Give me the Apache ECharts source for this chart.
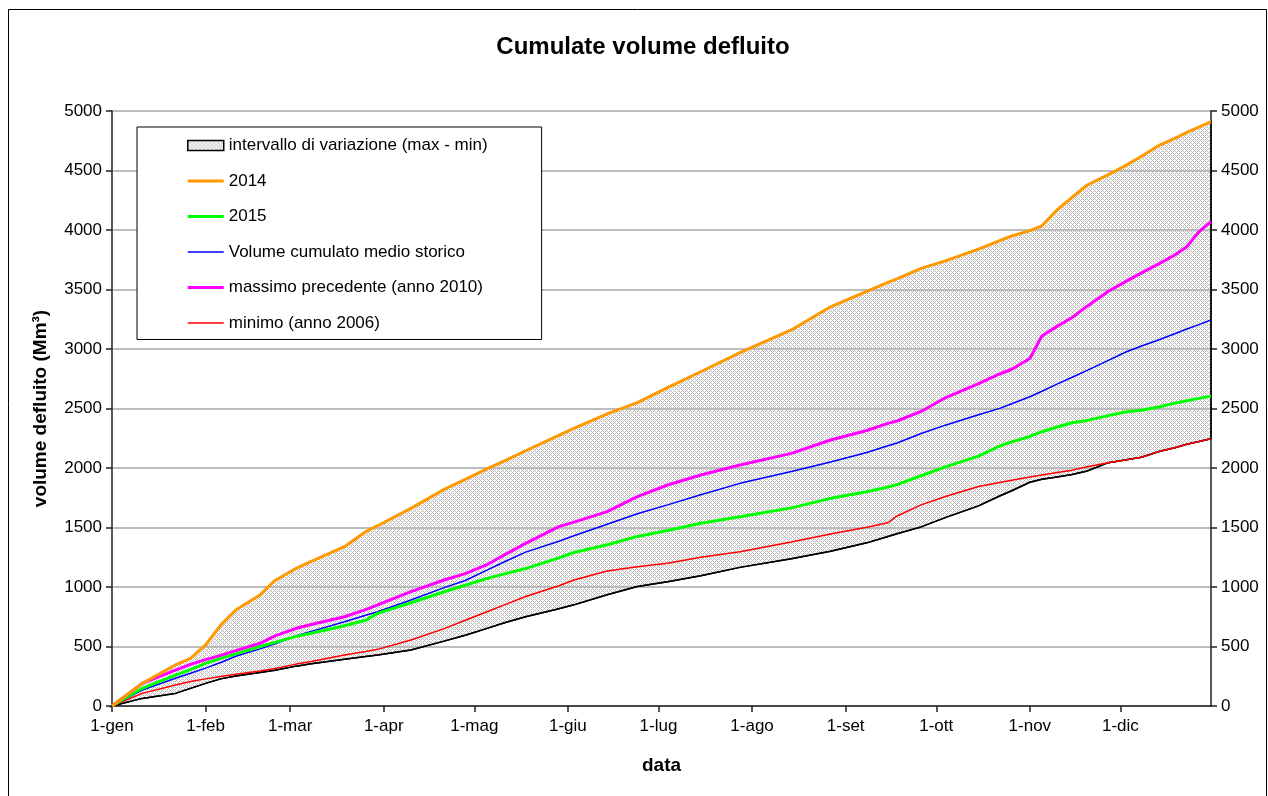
<!DOCTYPE html>
<html><head><meta charset="utf-8">
<script src="https://cdn.jsdelivr.net/npm/echarts@6/dist/echarts.min.js"></script>
<style>html,body{margin:0;padding:0;background:#fff}#c{width:1268px;height:796px}</style>
</head><body><div id="c"></div>
<script>
// ---- data ----
const titleText = 'Cumulate volume defluito';
const monthTickDays = [0, 31, 59, 90, 120, 151, 181, 212, 243, 273, 304, 334];
const monthLabels = ['1-gen','1-feb','1-mar','1-apr','1-mag','1-giu','1-lug','1-ago','1-set','1-ott','1-nov','1-dic'];
const yTicks = [0,500,1000,1500,2000,2500,3000,3500,4000,4500,5000];

// day of year (0 = 1 gennaio)
const days = [0,10,21,26,31,36,41,49,54,61, 66,77,84,88,99,110,117,124,130,137,
  148,153,164,174,184,195,208,225,238,250, 257,260,268,276,287,294,298,304,308,313,
  318,323,330,336,341,347,352,356,360,364];

const y2014 = [0,190,345,400,513,680,807,933,1055,1157, 1215,1339,1465,1515,1661,1820,1905,1990,2060,2145,
  2275,2334,2455,2549,2675,2809,2970,3160,3355,3485, 3560,3590,3678,3740,3840,3910,3950,3995,4035,4168,
  4275,4378,4465,4545,4620,4714,4770,4820,4865,4910];

const y2015 = [0,149,260,305,358,400,438,500,535,585, 612,675,720,778,868,960,1015,1070,1110,1155,
  1245,1290,1355,1425,1475,1535,1590,1665,1745,1800, 1840,1860,1935,2010,2100,2185,2220,2265,2305,2345,
  2380,2400,2440,2473,2485,2515,2545,2565,2585,2604];

const meanHist = [0,134,233,275,318,365,418,480,522,590, 627,708,762,792,891,995,1055,1140,1212,1293,
  1385,1430,1527,1615,1690,1775,1871,1971,2050,2130, 2187,2210,2290,2360,2447,2501,2540,2599,2645,2705,
  2763,2820,2905,2977,3025,3080,3128,3168,3205,3244];

const max2010 = [0,190,302,350,390,425,465,527,590,653, 685,750,810,849,961,1059,1112,1185,1270,1367,
  1507,1545,1633,1759,1857,1941,2025,2123,2235,2315, 2375,2395,2475,2590,2710,2790,2830,2920,3110,3190,
  3265,3360,3485,3570,3640,3720,3790,3860,3985,4070];

const min2006 = [0,106,176,205,228,248,266,295,315,352, 374,429,458,476,555,650,720,790,850,920,
  1010,1059,1135,1170,1200,1250,1296,1378,1445,1503, 1540,1597,1690,1760,1845,1878,1897,1925,1942,1962,
  1982,2010,2045,2070,2091,2140,2170,2200,2222,2246];

// lower boundary of the variation band (daily minimum over the years)
const minEnvelope = [0,64,106,148,190,228,252,282,300,335, 355,392,415,429,471,545,595,650,700,750,
  818,850,935,1005,1045,1095,1165,1238,1300,1371, 1425,1448,1505,1583,1682,1765,1809,1880,1905,1925,
  1945,1975,2045,2070,2091,2140,2170,2200,2222,2246];

// upper boundary of the variation band (daily maximum = 2014)
const maxEnvelope = y2014;

const names = {
  area: 'intervallo di variazione (max - min)',
  s2014: '2014',
  s2015: '2015',
  mean: 'Volume cumulato medio storico',
  max: 'massimo precedente (anno 2010)',
  min: 'minimo (anno 2006)'
};

// ---- styling helpers ----
const FONT = 'Liberation Sans, Arial, Helvetica, sans-serif';
function makePattern() {
  const c = document.createElement('canvas');
  c.width = 4; c.height = 4;
  const g = c.getContext('2d');
  g.fillStyle = '#bababa';
  for (let x = 0; x < 4; x++) for (let y = 0; y < 4; y++) {
    if ((x + y) % 4 === 0 || (x - y + 4) % 4 === 0) g.fillRect(x, y, 1, 1);
  }
  return c;
}
const pattern = { image: makePattern(), repeat: 'repeat' };
const pair = arr => days.map((d, i) => [d, arr[i]]);

const chart = echarts.init(document.getElementById('c'));
const lineSeries = (name, arr, color, width, z) => ({
  name, type: 'line', data: pair(arr), symbol: 'none', showSymbol: false,
  lineStyle: { color, width }, itemStyle: { color }, z, animation: false
});

const labelStyle = { color: '#000', fontFamily: FONT, fontSize: 17 };
const axisLine = { show: true, lineStyle: { color: '#222', width: 1.5 } };
const thick = 'path://M0,0H36V3H0Z';
const thin = 'path://M0,0H36V1.5H0Z';

chart.setOption({
  animation: false,
  backgroundColor: '#fff',
  grid: { left: 112, right: 57, top: 111, bottom: 90 },
  graphic: [
    { type: 'rect', shape: { x: 8.5, y: 9.5, width: 1258, height: 790 },
      style: { fill: 'none', stroke: '#000', lineWidth: 1 }, silent: true, z: -10 },
    { type: 'text', x: 643, y: 47, style: { text: titleText, fontFamily: FONT, fontSize: 24, fontWeight: 'bold',
      fill: '#000', textAlign: 'center', textVerticalAlign: 'middle' } }
  ],
  legend: {
    orient: 'vertical', left: 137, top: 127,
    padding: [10, 54, 8, 50],
    backgroundColor: '#fff', borderColor: '#000', borderWidth: 1,
    itemWidth: 36, itemHeight: 10, itemGap: 18.5, symbolKeepAspect: true,
    itemStyle: { borderWidth: 0 },
    textStyle: { color: '#000', fontFamily: FONT, fontSize: 17, lineHeight: 17 },
    selectedMode: false,
    data: [
      { name: names.area, icon: 'rect', itemStyle: { color: pattern, borderColor: '#000', borderWidth: 1.5 } },
      { name: names.s2014, icon: thick, itemStyle: { color: '#ff9900' } },
      { name: names.s2015, icon: thick, itemStyle: { color: '#00ff00' } },
      { name: names.mean, icon: thin, itemStyle: { color: '#0000ff' } },
      { name: names.max, icon: thick, itemStyle: { color: '#ff00ff' } },
      { name: names.min, icon: thin, itemStyle: { color: '#ff0000' } }
    ]
  },
  xAxis: {
    type: 'value', min: 0, max: 364,
    name: 'data', nameLocation: 'middle', nameGap: 50,
    nameTextStyle: { color: '#000', fontFamily: FONT, fontSize: 19, fontWeight: 'bold' },
    axisLine,
    axisTick: { show: true, customValues: monthTickDays, length: 6, lineStyle: { color: '#222', width: 1.5 } },
    axisLabel: Object.assign({ customValues: monthTickDays, margin: 12,
      formatter: v => monthLabels[monthTickDays.indexOf(Math.round(v))] || '' }, labelStyle),
    splitLine: { show: false }
  },
  yAxis: [
    {
      type: 'value', min: yTicks[0], max: yTicks[yTicks.length - 1], interval: 500, position: 'left',
      name: 'volume defluito (Mm³)', nameLocation: 'middle', nameGap: 62, nameRotate: 90,
      nameTextStyle: { color: '#000', fontFamily: FONT, fontSize: 19, fontWeight: 'bold' },
      axisLine, axisTick: { show: true, length: 6, lineStyle: { color: '#222', width: 1.5 } },
      axisLabel: Object.assign({ margin: 10, formatter: v => String(v) }, labelStyle),
      splitLine: { show: true, lineStyle: { color: '#bdbdbd', width: 2 } }
    },
    {
      type: 'value', min: yTicks[0], max: yTicks[yTicks.length - 1], interval: 500, position: 'right',
      axisLine, axisTick: { show: true, length: 6, lineStyle: { color: '#222', width: 1.5 } },
      axisLabel: Object.assign({ margin: 10, formatter: v => String(v) }, labelStyle),
      splitLine: { show: false }
    }
  ],
  series: [
    {
      name: names.area, type: 'custom', data: [[days[0], minEnvelope[0]]],
      itemStyle: { color: '#d0d0d0' }, z: 1, silent: true,
      renderItem: (params, api) => {
        const upper = days.map((d, i) => api.coord([d, maxEnvelope[i]]));
        const lower = days.map((d, i) => api.coord([d, minEnvelope[i]])).reverse();
        return { type: 'polygon', shape: { points: upper.concat(lower) },
          style: { fill: pattern, stroke: '#000', lineWidth: 1.5 } };
      }
    },
    { name: '__minEnvelope', type: 'line', data: pair(minEnvelope), symbol: 'none',
      lineStyle: { color: '#000', width: 1.5 }, z: 3 },
    lineSeries(names.min, min2006, '#ff0000', 1.5, 4),
    lineSeries(names.mean, meanHist, '#0000ff', 1.5, 5),
    lineSeries(names.s2015, y2015, '#00ff00', 3, 6),
    lineSeries(names.max, max2010, '#ff00ff', 3, 7),
    lineSeries(names.s2014, y2014, '#ff9900', 3, 8)
  ]
});
</script>
</body></html>
